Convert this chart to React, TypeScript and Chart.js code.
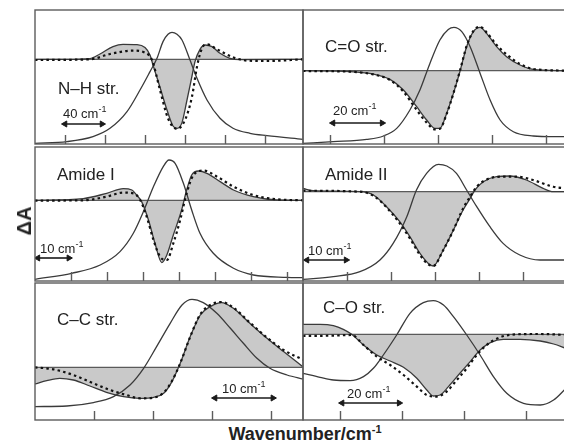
import React, { useEffect, useRef } from "react";
import { Chart, registerables } from "chart.js";

Chart.register(...registerables);

type P = [number, number];

// ---------- Panel 1: N–H str. (x in cm-1 offset, y in arbitrary ΔA units) ----------
const NH_PEAK: P[] = [[0,-84],[32,-82.3],[58,-77.3],[75,-69],[92,-52.3],[105,-30.7],[115,-12.3],[122,1],[128,17.7],[133,25],[137,27],[142,25],[147,19.3],[155,-0.7],[162,-19],[172,-40.7],[185,-59],[198,-69],[215,-74],[232,-76.3],[268,-80]];
const NH_DIFF: P[] = [[0,0],[32,0],[55,0.7],[65,5.3],[78,12.7],[88,15],[102,14.7],[110,11.7],[115,4.3],[118,-5.7],[125,-28],[132,-50.7],[138,-66.7],[142,-69],[147,-63.3],[152,-40.7],[157,-16.7],[160,-2.3],[165,10],[170,14.3],[177,12.7],[185,6],[195,1],[205,-0.3],[268,0]];
const NH_DASH: P[] = [[0,-0.7],[55,0],[75,5.3],[98,8.7],[110,6.7],[117,-0.7],[125,-30.7],[133,-59],[142,-69.7],[150,-60.7],[157,-37.3],[162,-7.3],[167,11],[172,15],[182,10],[198,2],[212,-1.3],[232,-1.7],[268,0]];
const NH_TICKS = [30, 70, 110, 150, 190, 230];
const NH_BAR = [30, 67];

// ---------- Panel 2: C=O str. ----------
const CO_PEAK: P[] = [[0,-72.7],[11.2,-71],[23.6,-68.7],[29.8,-65.3],[34.7,-57.7],[39.6,-39.3],[43.3,-19.3],[47,7.3],[50.7,30.7],[53.8,41.3],[55.9,43.3],[58.8,39],[61.9,24],[65.6,-2.7],[69.3,-29.3],[73,-49.3],[77.9,-61],[85.3,-65.3],[92.7,-66],[97.4,-66]];
const CO_DIFF: P[] = [[0,0],[17.4,-1],[26,-3.3],[32.2,-8.7],[37.2,-19.3],[42.1,-36],[45.8,-49.3],[48.9,-57.7],[50.7,-57.7],[53.2,-42.7],[55.7,-22.7],[58.1,-1],[60.6,24],[63.1,39],[65.6,43.3],[68,37.3],[71.7,24],[75.4,14],[80.4,5.7],[85.3,1.3],[97.4,0]];
const CO_DASH: P[] = [[0,-0.3],[17.4,-1],[26,-3.7],[32.2,-9.3],[37.2,-21],[42.1,-39.3],[45.8,-52],[48.9,-58.7],[50.7,-58],[53.2,-43.3],[55.7,-22.7],[58.1,-0.3],[60.6,24.7],[63.1,39.7],[65.6,44],[68,38.3],[71.7,25.7],[75.4,16.3],[80.4,6.7],[85.3,1.7],[97.4,0]];
const CO_TICKS = [10, 30, 50, 70, 90];
const CO_BAR = [11.1, 29.3];

// ---------- Panel 3: Amide I ----------
const AM1_PEAK: P[] = [[0,-79],[10.2,-73],[18.1,-64.7],[23.6,-51.3],[27.3,-33],[30.1,-11.3],[32.9,13.7],[35.6,33.7],[37.2,40.3],[38.9,37],[41.2,17],[43.5,-9.7],[45.8,-33],[49.5,-53],[55.1,-68],[60.6,-74.7],[69.9,-77],[74.5,-77.3]];
const AM1_DIFF: P[] = [[0,0],[13.4,1.7],[19.9,7],[24.5,11.7],[26.9,10.3],[28.2,5.3],[29.6,-1.3],[31.5,-19.7],[33.3,-43],[35.2,-62.3],[36.6,-54.7],[38.4,-34.7],[40.7,-9.7],[42.1,10.3],[43.5,25.3],[45.4,29.3],[47.7,27],[51.4,18.7],[55.1,10.3],[60.6,3.7],[67.1,0.3],[74.5,0]];
const AM1_DASH: P[] = [[0,-0.3],[13.4,0],[19.9,3.7],[24.5,7.7],[27.3,7],[29.2,0.3],[31,-16.3],[32.9,-39.7],[34.7,-56.3],[36.6,-59.7],[38.4,-43],[40.3,-19.7],[42.1,7],[44,25.3],[46.8,29.7],[50.5,23.7],[55.1,13.7],[60.6,5.3],[67.1,1],[74.5,0]];
const AM1_TICKS = [10, 20, 30, 40, 50, 60, 70];
const AM1_BAR = [0.8, 9.4];

// ---------- Panel 4: Amide II ----------
const AM2_PEAK: P[] = [[0,-87.7],[6.9,-85],[12.95,-80],[17.5,-68.3],[20.5,-51.7],[23.6,-25],[25.8,1.7],[28.1,18.3],[30.8,27.3],[32.7,25.7],[34.9,18.3],[37.2,1.7],[39.5,-15],[42.5,-35],[45.5,-51.7],[49.3,-63.3],[53.9,-68.3],[59.8,-68.3]];
const AM2_DIFF: P[] = [[0,3.3],[2.3,1],[12.95,0],[16,-3.3],[19,-15],[22,-30],[24.3,-45],[26.6,-61.7],[28.5,-71.7],[29.6,-74.3],[31.9,-58.3],[34.2,-38.3],[36.4,-18.3],[38,-6.7],[39.1,1.7],[41,10],[44,15],[47,15.7],[50.8,11.7],[54.6,3.3],[56.9,0],[59.8,0]];
const AM2_DASH: P[] = [[0,1],[12.95,0],[16,-4],[19,-15.7],[22,-31.7],[24.3,-46.7],[26.6,-63.3],[28.5,-72.7],[29.6,-74.3],[31.9,-58.3],[34.2,-38.3],[36.4,-16.7],[38,-5],[39.5,5],[41.8,12.3],[44.8,15],[48.6,15],[52.3,11.7],[56.9,5],[59.8,3.3]];
const AM2_TICKS = [10, 20, 30, 40, 50];
const AM2_BAR = [0.9, 9.8];

// ---------- Panel 5: C–C str. ----------
const CC_PEAK: P[] = [[0,-39.3],[5.4,-38.7],[9.9,-35.3],[13.3,-29.3],[16.1,-17.7],[18.4,-1],[20.6,20.7],[22.9,44],[24.9,62.3],[26.6,68],[28.5,64.7],[30.8,54],[33.1,39],[35.3,24],[37.6,9],[39.8,-1],[42.7,-7.7],[45.5,-12]];
const CC_DIFF: P[] = [[0,-16.7],[2,-13.3],[4.2,-11],[6.5,-12.7],[9.3,-18.7],[12.1,-25],[15,-29.3],[17.8,-31],[20.1,-30],[21.8,-26],[23.2,-14.3],[24.6,4],[26.3,30.7],[28,52.3],[29.7,60.7],[31.6,64.7],[33.6,59],[36.4,44],[39.3,29],[42.1,15.7],[45.5,0]];
const CC_DASH: P[] = [[0,0],[3.1,-2],[6.5,-7.7],[9.9,-16],[12.7,-22.7],[15.5,-27.7],[17.8,-31],[20.1,-30.3],[21.8,-25.3],[23.2,-13.7],[24.6,4],[26.3,30.7],[28,53],[29.7,62.3],[31.6,65.3],[33.6,59.7],[36.4,44.7],[39.3,29.7],[42.1,17.3],[45.5,7.3]];
const CC_TICKS = [10, 20, 30, 40];
const CC_BAR = [30.5, 40.3];

// ---------- Panel 6: C–O str. ----------
const CO2_PEAK: P[] = [[-2,-39],[3.5,-43],[7.8,-45.7],[13.2,-46.3],[17.5,-42.3],[20.7,-34],[23.9,-20.7],[28.2,-0.7],[32.5,21],[36.8,31.7],[40,33.7],[43.3,29.3],[46.5,17.7],[50.8,-0.7],[55.1,-20.7],[59.4,-42.3],[63.7,-59],[69.1,-69],[74.5,-70.7],[78.8,-65.7],[82.8,-54]];
const CO2_DIFF: P[] = [[-2,10],[3.5,10],[7.8,8.7],[11,5],[13.7,0],[17.5,-10.7],[21.8,-20.7],[26.1,-26.7],[30.4,-33],[34.7,-44],[37.9,-55.7],[40,-61.7],[42.2,-60.7],[44.9,-52.3],[48.6,-39],[51.9,-27.3],[55.1,-15.7],[58.4,-8.3],[62.6,-5],[68,-5],[74.5,-6.7],[78.8,-9.7],[82.8,-14]];
const CO2_DASH: P[] = [[-2,-1.7],[7.8,-1.3],[13.7,-0.7],[17.5,-10.7],[21.8,-22.3],[26.1,-30.7],[30.4,-40.7],[34.7,-52.3],[37.9,-60.7],[41.1,-62.3],[44.3,-57.3],[47.6,-45.7],[50.8,-34],[54,-20.7],[57.2,-10.7],[61.5,-3],[66.9,0],[74.5,0.3],[82.8,-0.7]];
const CO2_TICKS = [10, 30, 50, 70];
const CO2_BAR = [10.6, 29];

type Panel = {
  box: [number, number, number, number];
  xMin: number; xMax: number; yMin: number; yMax: number;
  ticks: number[]; peak: P[]; diff: P[]; dash: P[];
  bar: number[]; barY: number; barText: string; barDx: number; barDy: number;
  title: string; titleDx: number; titleDy: number;
};

const FONT = '"Liberation Sans", Arial, Helvetica, sans-serif';

const PANELS: Panel[] = [
  { box: [35, 10, 303, 144], xMin: 0, xMax: 268, yMin: -84.7, yMax: 49.3, ticks: NH_TICKS, peak: NH_PEAK, diff: NH_DIFF, dash: NH_DASH, bar: NH_BAR, barY: -64.7, barText: "40 cm", barDx: 28, barDy: 108, title: "N\u2013H str.", titleDx: 23, titleDy: 84 },
  { box: [303, 10, 566, 144], xMin: 0, xMax: 97.4, yMin: -73.3, yMax: 60.7, ticks: CO_TICKS, peak: CO_PEAK, diff: CO_DIFF, dash: CO_DASH, bar: CO_BAR, barY: -52.3, barText: "20 cm", barDx: 30, barDy: 105, title: "C=O str.", titleDx: 22, titleDy: 42 },
  { box: [35, 147, 303, 281], xMin: 0, xMax: 74.4, yMin: -80.7, yMax: 53.3, ticks: AM1_TICKS, peak: AM1_PEAK, diff: AM1_DIFF, dash: AM1_DASH, bar: AM1_BAR, barY: -57.7, barText: "10 cm", barDx: 5, barDy: 106, title: "Amide I", titleDx: 22, titleDy: 33 },
  { box: [303, 147, 566, 281], xMin: 0, xMax: 59.8, yMin: -89.3, yMax: 44.7, ticks: AM2_TICKS, peak: AM2_PEAK, diff: AM2_DIFF, dash: AM2_DASH, bar: AM2_BAR, barY: -68.3, barText: "10 cm", barDx: 5, barDy: 108, title: "Amide II", titleDx: 22, titleDy: 33 },
  { box: [35, 283, 303, 420], xMin: 0, xMax: 45.4, yMin: -52.7, yMax: 84.3, ticks: CC_TICKS, peak: CC_PEAK, diff: CC_DIFF, dash: CC_DASH, bar: CC_BAR, barY: -30.7, barText: "10 cm", barDx: 187, barDy: 110, title: "C\u2013C str.", titleDx: 22, titleDy: 42 },
  { box: [303, 283, 566, 420], xMin: -2, xMax: 82.8, yMin: -85.7, yMax: 51.3, ticks: CO2_TICKS, peak: CO2_PEAK, diff: CO2_DIFF, dash: CO2_DASH, bar: CO2_BAR, barY: -68.7, barText: "20 cm", barDx: 44, barDy: 115, title: "C\u2013O str.", titleDx: 20, titleDy: 30 },
];

const panelDecor = {
  id: "panelDecor",
  afterDatasetsDraw(chart: any, _args: any, opts: any) {
    const { ctx, chartArea: a, scales } = chart;
    const xs = scales.x;
    ctx.save();
    ctx.setLineDash([]);
    ctx.lineJoin = "miter";
    ctx.lineCap = "butt";
    ctx.strokeStyle = "#5c5c5c";
    ctx.lineWidth = 1.4;
    ctx.strokeRect(a.left, a.top, a.right - a.left, a.bottom - a.top);
    ctx.beginPath();
    for (const t of opts.ticks) {
      const px = Math.round(xs.getPixelForValue(t)) + 0.5;
      ctx.moveTo(px, a.bottom);
      ctx.lineTo(px, a.bottom - 9);
    }
    ctx.stroke();
    ctx.fillStyle = "#222";
    ctx.textBaseline = "alphabetic";
    ctx.textAlign = "left";
    ctx.font = `17px ${FONT}`;
    ctx.fillText(opts.title, a.left + opts.titleDx, a.top + opts.titleDy);
    const sx = a.left + opts.barDx;
    const sy = a.top + opts.barDy;
    ctx.font = `13px ${FONT}`;
    const w1 = ctx.measureText(opts.barText).width;
    ctx.fillText(opts.barText, sx, sy);
    ctx.font = `9px ${FONT}`;
    ctx.fillText("-1", sx + w1, sy - 6);
    ctx.restore();
  },
};

function PanelChart({ p }: { p: Panel }) {
  const ref = useRef<HTMLCanvasElement>(null);
  const [l, t, r, b] = p.box;
  useEffect(() => {
    const toXY = (arr: P[]) => arr.map(([x, y]) => ({ x, y }));
    const chart = new Chart(ref.current as HTMLCanvasElement, {
      type: "line",
      data: {
        datasets: [
          { data: toXY(p.dash), borderColor: "#111", borderWidth: 2.2, borderDash: [2.5, 3.2], pointRadius: 0, fill: false, cubicInterpolationMode: "monotone" },
          { data: toXY(p.peak), borderColor: "#3a3a3a", borderWidth: 1.3, pointRadius: 0, fill: false, cubicInterpolationMode: "monotone" },
          { data: toXY(p.diff), borderColor: "#3a3a3a", borderWidth: 1.3, pointRadius: 0, fill: { value: 0 }, backgroundColor: "#c9c9c9", cubicInterpolationMode: "monotone" },
          { data: [{ x: p.xMin, y: 0 }, { x: p.xMax, y: 0 }], borderColor: "#5a5a5a", borderWidth: 1.3, pointRadius: 0, fill: false },
          { data: [{ x: p.bar[0], y: p.barY }, { x: p.bar[1], y: p.barY }], borderColor: "#1a1a1a", borderWidth: 1.6, pointStyle: "triangle", pointRadius: 3.5, pointRotation: [-90, 90], pointBackgroundColor: "#1a1a1a", pointBorderColor: "#1a1a1a", pointBorderWidth: 1, fill: false },
        ] as any,
      },
      options: {
        responsive: false,
        animation: false,
        events: [],
        layout: { padding: 1, autoPadding: false },
        plugins: {
          legend: { display: false },
          tooltip: { enabled: false },
          filler: { drawTime: "beforeDatasetsDraw" },
          panelDecor: { ticks: p.ticks, title: p.title, titleDx: p.titleDx, titleDy: p.titleDy, barText: p.barText, barDx: p.barDx, barDy: p.barDy },
        } as any,
        scales: {
          x: { type: "linear", display: false, min: p.xMin, max: p.xMax },
          y: { type: "linear", display: false, min: p.yMin, max: p.yMax },
        },
      } as any,
      plugins: [panelDecor as any],
    });
    return () => chart.destroy();
  }, []);
  return (
    <canvas
      ref={ref}
      width={r - l + 2}
      height={b - t + 2}
      style={{ position: "absolute", left: l - 1, top: t - 1, width: r - l + 2, height: b - t + 2 }}
    />
  );
}

export default function App() {
  return (
    <div style={{ position: "fixed", left: 0, top: 0, width: 564, height: 445, overflow: "hidden", background: "#fff" }}>
      {PANELS.map((p, i) => (
        <PanelChart key={i} p={p} />
      ))}
      <div
        style={{
          position: "absolute", left: 24, top: 221, transform: "translate(-50%, -50%) rotate(-90deg)",
          font: `bold 20px ${FONT}`, color: "#222", whiteSpace: "nowrap", lineHeight: "20px",
        }}
      >
        ΔA
      </div>
      <div
        style={{
          position: "absolute", left: 0, width: 610, top: 424, textAlign: "center",
          font: `bold 18px ${FONT}`, color: "#222", whiteSpace: "nowrap", lineHeight: "20px",
        }}
      >
        Wavenumber/cm<sup style={{ fontSize: 11, lineHeight: 0, verticalAlign: 7 }}>-1</sup>
      </div>
    </div>
  );
}
